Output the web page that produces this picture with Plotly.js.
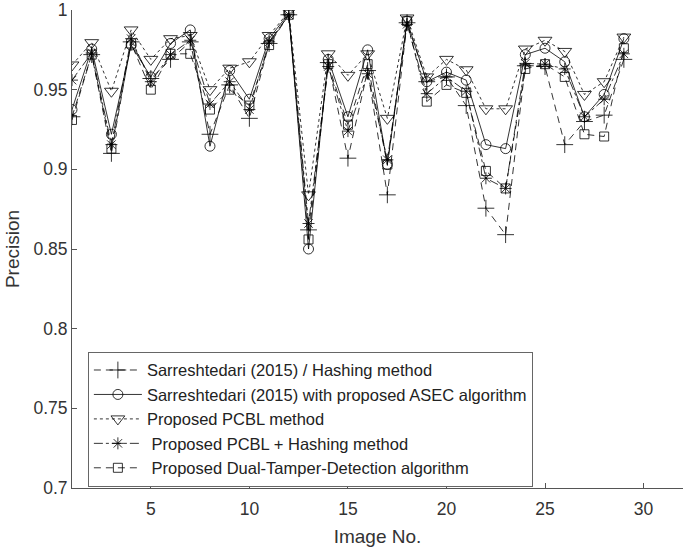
<!DOCTYPE html>
<html>
<head>
<meta charset="utf-8">
<script src="https://cdn.plot.ly/plotly-3.0.1.min.js"></script>
<style>html,body{margin:0;padding:0;background:#fff;}#chart{width:685px;height:550px;}</style>
</head>
<body>
<div id="chart"></div>
<script>
const imageNo = [1,2,3,4,5,6,7,8,9,10,11,12,13,14,15,16,17,18,19,20,21,22,23,24,25,26,27,28,29];
const hashing = [0.933,0.972,0.910,0.980,0.957,0.969,0.980,0.922,0.953,0.932,0.979,0.997,0.862,0.967,0.907,0.962,0.884,0.992,0.955,0.958,0.940,0.8756,0.859,0.965,0.9645,0.9155,0.930,0.934,0.969];
const asec = [0.9375,0.9755,0.922,0.978,0.958,0.979,0.9875,0.9145,0.962,0.944,0.982,0.998,0.850,0.969,0.933,0.975,0.903,0.993,0.955,0.961,0.956,0.9155,0.913,0.972,0.976,0.9675,0.933,0.947,0.982];
const pcbl = [0.9655,0.9795,0.949,0.9875,0.969,0.982,0.984,0.950,0.9635,0.9675,0.984,0.999,0.884,0.9725,0.959,0.9725,0.932,0.995,0.958,0.969,0.9625,0.938,0.938,0.9755,0.981,0.974,0.947,0.955,0.983];
const pcblHash = [0.956,0.973,0.9155,0.982,0.955,0.972,0.981,0.941,0.955,0.9375,0.980,0.997,0.866,0.9645,0.924,0.960,0.906,0.991,0.9475,0.958,0.949,0.8944,0.888,0.9665,0.966,0.963,0.933,0.944,0.9725];
const dual = [0.931,0.972,0.913,0.979,0.950,0.9725,0.9725,0.9375,0.950,0.940,0.978,0.997,0.856,0.966,0.928,0.966,0.903,0.993,0.9425,0.953,0.948,0.899,0.888,0.963,0.966,0.958,0.922,0.9206,0.976];
const names = [
  "Sarreshtedari (2015) / Hashing method",
  "Sarreshtedari (2015) with proposed ASEC algorithm",
  "Proposed PCBL method",
  " Proposed PCBL + Hashing method",
  " Proposed Dual-Tamper-Detection algorithm"
];
const yTicks = [0.7,0.75,0.8,0.85,0.9,0.95,1];
const xTicks = [5,10,15,20,25,30];

function tr(y, name, dash, symbol, size) {
  return {
    x: imageNo, y: y, name: name, type: 'scatter', mode: 'lines+markers',
    line: {color: '#000', width: 0.8, dash: dash},
    marker: {symbol: symbol, size: size, color: '#000', line: {color: '#000', width: 0.8}}
  };
}
const data = [
  tr(hashing, names[0], '7px,5px', 'cross-thin-open', 12),
  tr(asec, names[1], 'solid', 'circle-open', 10),
  tr(pcbl, names[2], 'dot', 'triangle-down-open', 12),
  tr(pcblHash, names[3], 'dashdot', 'asterisk-open', 10),
  tr(dual, names[4], '7px,5px', 'square-open', 9)
];
const axisCol = '#555';
const txtCol = '#333';
const layout = {
  width: 685, height: 550,
  margin: {l: 72, r: 2, t: 10, b: 62},
  paper_bgcolor: '#fff', plot_bgcolor: '#fff',
  font: {family: 'Liberation Sans, Arial, sans-serif', color: txtCol, size: 17},
  showlegend: true,
  legend: {
    x: 0.026, y: 0.285, xanchor: 'left', yanchor: 'top',
    bgcolor: '#fff', bordercolor: '#666', borderwidth: 1,
    font: {size: 16.5, color: '#222'}, itemwidth: 48, tracegroupgap: 0
  },
  xaxis: {
    range: [1, 32], tickvals: xTicks, ticktext: xTicks.map(String),
    ticks: 'inside', ticklen: 5, tickcolor: axisCol, tickwidth: 1,
    showline: true, linecolor: axisCol, linewidth: 1, showgrid: false, zeroline: false,
    tickfont: {size: 17.5, color: txtCol}, ticklabeloverflow: 'allow', ticklabelstandoff: 5,
    title: {text: 'Image No.', font: {size: 19, color: txtCol}, standoff: 11}
  },
  yaxis: {
    range: [0.7, 1], tickvals: yTicks, ticktext: yTicks.map(String),
    ticks: 'inside', ticklen: 5, tickcolor: axisCol, tickwidth: 1,
    showline: true, linecolor: axisCol, linewidth: 1, showgrid: false, zeroline: false,
    tickfont: {size: 17.5, color: txtCol}, ticklabeloverflow: 'allow',
    title: {text: 'Precision', font: {size: 19, color: txtCol}, standoff: 8}
  }
};
Plotly.newPlot('chart', data, layout, {displayModeBar: false, staticPlot: true});
</script>
</body>
</html>
